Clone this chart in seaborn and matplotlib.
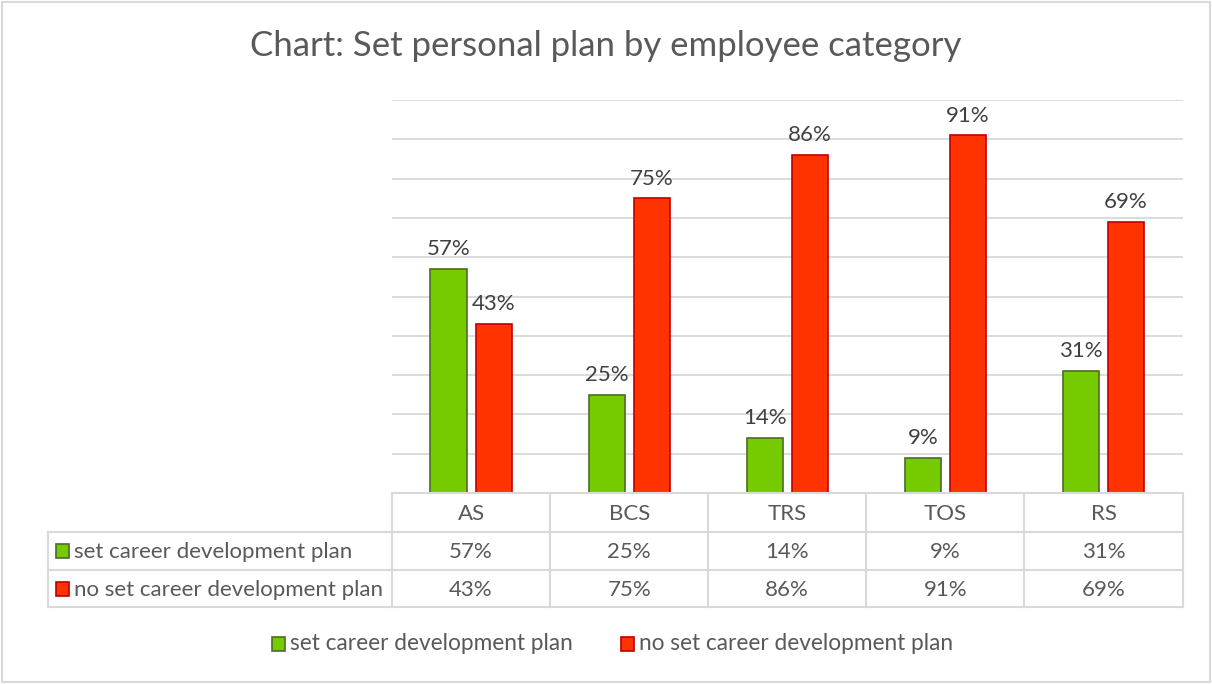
import matplotlib
matplotlib.use("Agg")
import matplotlib.pyplot as plt
from matplotlib.patches import Rectangle
import pandas as pd
import seaborn as sns

# Data
categories = ["AS", "BCS", "TRS", "TOS", "RS"]
series_names = ["set career development plan", "no set career development plan"]
set_plan = [57, 25, 14, 9, 31]
no_set_plan = [43, 75, 86, 91, 69]

title = "Chart: Set personal plan by employee category"

fill_colors = ["#76CB00", "#FF3300"]
edge_colors = ["#4B6B2A", "#C00000"]
text_color = "#595959"
grid_color = "#D9D9D9"

df = pd.DataFrame({
    "category": categories * 2,
    "series": [series_names[0]] * len(categories) + [series_names[1]] * len(categories),
    "value": [v / 100 for v in set_plan + no_set_plan],
})

sns.set_theme(style="white")
plt.rcParams["font.family"] = ["Lato", "DejaVu Sans"]

W, H = 1212, 684
fig = plt.figure(figsize=(W / 100, H / 100), dpi=100)


def fx(px):
    return px / W


def fy(py):
    return 1 - py / H


# Main plot area (pixel box: x 392..1182, y 100..493)
x0, x1, ytop, ybot = 392, 1182.5, 100, 493
ax = fig.add_axes([fx(x0), fy(ybot), fx(x1) - fx(x0), fy(ytop) - fy(ybot)])

sns.barplot(
    data=df, x="category", y="value", hue="series", order=categories,
    hue_order=series_names, palette=fill_colors, saturation=1,
    width=0.57, gap=0.2, ax=ax, legend=False, zorder=3,
)

# Edge colours per series
containers = ax.containers
for cont, ec in zip(containers, edge_colors):
    for bar in cont:
        bar.set_edgecolor(ec)
        bar.set_linewidth(1.2)

FS = 16

# Value labels above bars
for cont, vals in zip(containers, [set_plan, no_set_plan]):
    ax.bar_label(cont, labels=[f"{v}%" for v in vals], padding=7,
                 fontsize=FS, color="#404040")

ax.set_xlim(-0.5, len(categories) - 0.5)
ax.set_ylim(0, 1.0)
ax.set_yticks([i / 10 for i in range(11)])
ax.set_yticklabels([])
ax.yaxis.grid(True, color=grid_color, linewidth=1.3, zorder=0)
ax.set_axisbelow(True)
ax.tick_params(axis="both", length=0)
ax.set_xticklabels([])
ax.set_xlabel("")
ax.set_ylabel("")
for s in ax.spines.values():
    s.set_visible(False)

# Overlay in pixel coordinates for title, data table, legend and frame
ov = fig.add_axes([0, 0, 1, 1], zorder=5)
ov.set_xlim(0, W)
ov.set_ylim(H, 0)
ov.axis("off")
ov.patch.set_alpha(0)

# Outer frame
ov.add_patch(Rectangle((2, 2), W - 4, H - 4, fill=False, edgecolor=grid_color, linewidth=1.5))

ov.text(606, 46, title, ha="center", va="center", fontsize=25, color=text_color)

# Data table
col_edges = [x0 + i * (x1 - x0) / len(categories) for i in range(len(categories) + 1)]
row_edges = [493, 532, 570, 607]
tbl_left = 48
lc = dict(color=grid_color, linewidth=1.5, solid_capstyle="projecting")
ov.plot([x0, x1], [row_edges[0], row_edges[0]], **lc)
for r in row_edges[1:]:
    ov.plot([tbl_left, x1], [r, r], **lc)
for c in col_edges:
    ov.plot([c, c], [row_edges[0], row_edges[-1]], **lc)
ov.plot([tbl_left, tbl_left], [row_edges[1], row_edges[-1]], **lc)

for i, cat in enumerate(categories):
    cx = (col_edges[i] + col_edges[i + 1]) / 2
    ov.text(cx, (row_edges[0] + row_edges[1]) / 2 + 2, cat, ha="center", va="center",
            fontsize=FS, color=text_color)
    for r, vals in enumerate([set_plan, no_set_plan]):
        ov.text(cx, (row_edges[r + 1] + row_edges[r + 2]) / 2 + 1, f"{vals[i]}%",
                ha="center", va="center", fontsize=FS, color=text_color)

for r, name in enumerate(series_names):
    cy = (row_edges[r + 1] + row_edges[r + 2]) / 2
    ov.add_patch(Rectangle((56, cy - 7), 13, 14, facecolor=fill_colors[r],
                           edgecolor=edge_colors[r], linewidth=1.2))
    ov.text(74, cy + 1, name, ha="left", va="center", fontsize=FS, color=text_color)

# Bottom legend
leg_y = 644
for kx, name, fc, ec in zip([272, 621], series_names, fill_colors, edge_colors):
    ov.add_patch(Rectangle((kx, leg_y - 7), 13, 14, facecolor=fc, edgecolor=ec, linewidth=1.2))
    ov.text(kx + 18, leg_y, name, ha="left", va="center", fontsize=16.3, color=text_color)

fig.savefig("out.png", dpi=100)
